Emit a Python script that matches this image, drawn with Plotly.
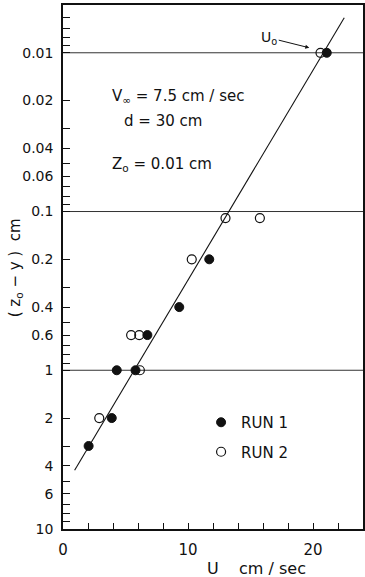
import math
import plotly.graph_objects as go

# ---- data ----
run1_u = [21.1, 11.7, 9.3, 6.75, 4.3, 5.8, 3.9, 2.05]
run1_z = [0.01, 0.2, 0.4, 0.6, 1.0, 1.0, 2.0, 3.0]
run2_u = [20.6, 13.0, 15.75, 10.3, 5.45, 6.1, 6.15, 2.9]
run2_z = [0.01, 0.11, 0.11, 0.2, 0.6, 0.6, 1.0, 2.0]
fit_u = [0.93, 22.5]
fit_z = [4.27, 0.00602]
ref_levels = [0.01, 0.1, 1.0]

x_range = [0, 24]
y_top, y_bottom = 0.005, 10.0

y_tick_vals = [0.01, 0.02, 0.04, 0.06, 0.1, 0.2, 0.4, 0.6, 1, 2, 4, 6, 10]
y_tick_text = ["0.01", "0.02", "0.04", "0.06", "0.1", "0.2", "0.4", "0.6", "1", "2", "4", "6", "10"]
y_minor_vals = [0.006, 0.007, 0.008, 0.009, 0.03, 0.05, 0.07, 0.08, 0.09,
                0.3, 0.5, 0.7, 0.8, 0.9, 3, 5, 7, 8, 9]
x_tick_vals = [0, 10, 20]
x_tick_text = ["0", "10", "20"]
x_minor_vals = [2, 4, 6, 8, 12, 14, 16, 18, 22, 24]

W, H = 365, 577
ML, MR, MT, MB = 63, 0, 5, 48
PW, PH = W - ML - MR, H - MT - MB
FONT = "DejaVu Sans"
INK = "#111111"


def px(xp, yp):
    return (xp - ML) / PW, (H - MB - yp) / PH


fig = go.Figure()

for lv in ref_levels:
    fig.add_trace(go.Scatter(x=x_range, y=[lv, lv], mode="lines",
                             line=dict(color="#333333", width=1),
                             showlegend=False, hoverinfo="skip"))

fig.add_trace(go.Scatter(x=fit_u, y=fit_z, mode="lines",
                         line=dict(color=INK, width=1.1),
                         showlegend=False, hoverinfo="skip"))

fig.add_trace(go.Scatter(x=run1_u, y=run1_z, mode="markers", name="RUN 1",
                         legendgroup="r1",
                         marker=dict(symbol="circle", size=9, color=INK,
                                     line=dict(color=INK, width=1))))
fig.add_trace(go.Scatter(x=run2_u, y=run2_z, mode="markers", name="RUN 2",
                         legendgroup="r2",
                         marker=dict(symbol="circle-open", size=9, color=INK,
                                     line=dict(color=INK, width=1.2))))

annos = []
for text, xp, yp in [("V<sub>∞</sub> = 7.5 cm / sec", 110, 97),
                     ("d = 30 cm", 122, 121),
                     ("Z<sub>o</sub> = 0.01 cm", 110, 165)]:
    xx, yy = px(xp, yp)
    annos.append(dict(text=text, x=xx, y=yy, xref="paper", yref="paper",
                      xanchor="left", yanchor="middle", showarrow=False,
                      font=dict(family=FONT, size=15, color=INK)))

# U0 label with arrow
annos.append(dict(text="U<sub>o</sub>", x=19.7, y=math.log10(0.0093),
                  xref="x", yref="y", ax=-40, ay=-10, showarrow=True,
                  arrowhead=2, arrowsize=0.8, arrowwidth=1, arrowcolor=INK,
                  font=dict(family=FONT, size=14, color=INK)))

# axis titles
xx, yy = px(206, 568)
annos.append(dict(text="U    cm / sec", x=xx, y=yy, xref="paper", yref="paper",
                  xanchor="left", yanchor="middle", showarrow=False,
                  font=dict(family=FONT, size=16, color=INK)))
xx, yy = px(15, 268)
annos.append(dict(text="( z<sub>o</sub> − y )  cm", x=xx, y=yy, xref="paper", yref="paper",
                  xanchor="center", yanchor="middle", textangle=-90, showarrow=False,
                  font=dict(family=FONT, size=15, color=INK)))

lx, ly = px(202, 406)

fig.update_layout(
    width=W, height=H,
    margin=dict(l=ML, r=MR, t=MT, b=MB),
    paper_bgcolor="white", plot_bgcolor="white",
    font=dict(family=FONT, size=14, color=INK),
    annotations=annos,
    showlegend=True,
    legend=dict(x=lx, y=ly, xanchor="left", yanchor="top",
                bgcolor="rgba(0,0,0,0)", tracegroupgap=7,
                font=dict(family=FONT, size=15, color=INK)),
    xaxis=dict(range=x_range, showgrid=False, zeroline=False,
               showline=True, linecolor=INK, linewidth=1.5, mirror=True,
               ticks="inside", ticklen=6, tickcolor=INK, tickwidth=1,
               tickmode="array", tickvals=x_tick_vals, ticktext=x_tick_text,
               ticklabelstandoff=6,
               tickfont=dict(family=FONT, size=15, color=INK),
               minor=dict(tickmode="array", tickvals=x_minor_vals,
                          ticks="inside", ticklen=6, tickcolor=INK,
                          tickwidth=1, showgrid=False)),
    yaxis=dict(type="log", range=[math.log10(y_bottom), math.log10(y_top)],
               showgrid=False, zeroline=False,
               showline=True, linecolor=INK, linewidth=1.5, mirror=True,
               ticks="inside", ticklen=7, tickcolor=INK, tickwidth=1,
               tickmode="array", tickvals=y_tick_vals, ticktext=y_tick_text,
               ticklabelstandoff=5,
               tickfont=dict(family=FONT, size=14, color=INK),
               minor=dict(tickmode="array", tickvals=y_minor_vals,
                          ticks="inside", ticklen=7, tickcolor=INK,
                          tickwidth=1, showgrid=False)),
)

fig.write_html("out.html")
